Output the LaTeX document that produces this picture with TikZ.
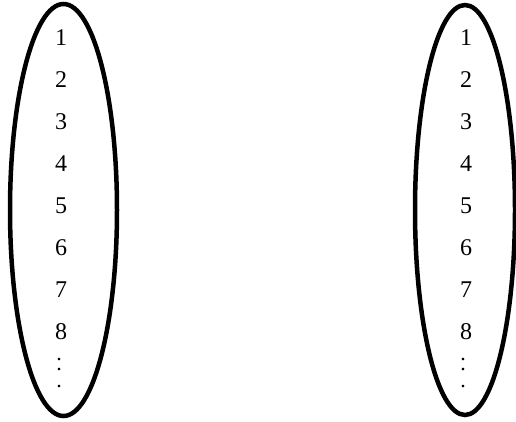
\documentclass[tikz,border=0pt]{standalone}
\usepackage{fontspec}
\setmainfont{Liberation Serif}
\newcommand{\myvdots}{\vbox{\offinterlineskip\hbox{.}\kern7.5pt\hbox{.}\kern13.5pt\hbox{.}}}
\begin{document}
\begin{tikzpicture}[x=1pt,y=-1pt,
  ring/.style={draw=black,line width=4.5pt},
  num/.style={font=\fontsize{24}{24}\selectfont,inner sep=0pt,anchor=center}]
\useasboundingbox (0,0) rectangle (516,421);
\draw[ring] (63.5,210) ellipse [x radius=53.5,y radius=206];
\draw[ring] (465,210) ellipse [x radius=50,y radius=205];
\foreach \i/\y in {1/38,2/80,3/122,4/164,5/206,6/248,7/290,8/332}{
  \node[num] (l\i) at (61,\y) {\i};
  \node[num] (r\i) at (466,\y) {\i};
}
\node[num,font=\fontsize{22}{22}\selectfont] (ld) at (59,373) {\myvdots};
\node[num,font=\fontsize{22}{22}\selectfont] (rd) at (463,373) {\myvdots};
\end{tikzpicture}
\end{document}
